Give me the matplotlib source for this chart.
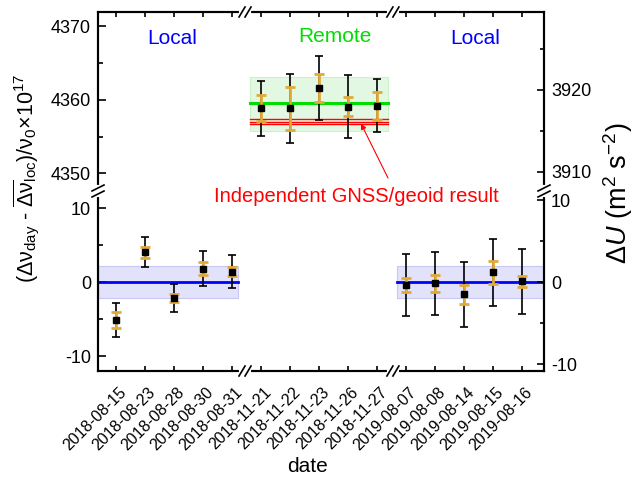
import matplotlib
matplotlib.use('Agg')
import matplotlib.pyplot as plt
import numpy as np
from matplotlib.lines import Line2D
from matplotlib.transforms import IdentityTransform, blended_transform_factory, ScaledTranslation
from matplotlib.ticker import MultipleLocator

plt.rcParams['font.family'] = ['Liberation Sans', 'DejaVu Sans']
plt.rcParams['mathtext.fontset'] = 'custom'
plt.rcParams['mathtext.rm'] = 'Liberation Sans'
plt.rcParams['mathtext.it'] = 'Liberation Sans:italic'
plt.rcParams['mathtext.bf'] = 'Liberation Sans:bold'
plt.rcParams['mathtext.default'] = 'regular'
plt.rcParams['axes.unicode_minus'] = False

# ---------------- data ----------------
dates = ['2018-08-15', '2018-08-23', '2018-08-28', '2018-08-30', '2018-08-31',
         '2018-11-21', '2018-11-22', '2018-11-23', '2018-11-26', '2018-11-27',
         '2019-08-07', '2019-08-08', '2019-08-14', '2019-08-15', '2019-08-16']

local1_y = [-5.15, 4.08, -2.13, 1.85, 1.42]
local1_err_tot = [2.3, 2.07, 1.9, 2.4, 2.25]
local1_err_stat = [1.08, 0.75, 0.56, 0.86, 0.6]

remote_y = [4358.85, 4358.82, 4361.6, 4359.07, 4359.15]
remote_err_tot = [3.74, 4.66, 4.34, 4.24, 3.6]
remote_err_stat = [1.74, 2.93, 1.95, 1.35, 1.9]

local2_y = [-0.42, -0.16, -1.65, 1.33, 0.12]
local2_err_tot = [4.2, 4.33, 4.4, 4.54, 4.4]
local2_err_stat = [0.95, 1.13, 1.35, 1.6, 0.7]

local_mean = 0.0
local_band = 2.17
remote_mean = 4359.5
remote_band_lo, remote_band_hi = 4355.8, 4363.04
gnss_val = 4357.02
gnss_err = 0.32

K = 0.8988  # Delta U (m^2 s^-2) per 1e-17 fractional frequency

# ---------------- style ----------------
ORANGE = '#E0AA38'
BLUE = '#0000FF'
GREEN = '#00DD00'
RED = '#FF0000'

W, H = 641, 479
L, R, T, B, M = 98, 544, 12, 371, 191

fig = plt.figure(figsize=(W / 100, H / 100), dpi=100)
ax_t = fig.add_axes([L / W, (H - M) / H, (R - L) / W, (M - T) / H])
ax_b = fig.add_axes([L / W, (H - B) / H, (R - L) / W, (B - M) / H])

x = np.arange(len(dates))
xl = (-0.62, 14.76)
x1, x2, x3 = x[0:5], x[5:10], x[10:15]

for ax in (ax_t, ax_b):
    ax.set_xlim(*xl)
    ax.set_xticks(x)
    for s in ax.spines.values():
        s.set_linewidth(1.5)

ax_t.set_ylim(4347.61, 4371.90)
ax_b.set_ylim(-12.02, 12.37)

ax_t.spines['bottom'].set_visible(False)
ax_b.spines['top'].set_visible(False)


def draw_group(ax, xs, ys, tot, stat):
    ax.errorbar(xs, ys, yerr=tot, fmt='none', ecolor='black', elinewidth=1.2,
                capsize=3, capthick=1.2, zorder=3)
    ax.errorbar(xs, ys, yerr=stat, fmt='none', ecolor=ORANGE, elinewidth=2.0,
                capsize=3.6, capthick=2.0, zorder=4)
    ax.plot(xs, ys, 's', color='black', ms=4.3, zorder=5)


# bands & mean lines
ax_b.fill_between([xl[0], 4.2], local_mean - local_band, local_mean + local_band,
                  facecolor='#E2E2FA', edgecolor='#C8C8F2', lw=0.8, zorder=1)
ax_b.plot([xl[0], 4.2], [local_mean, local_mean], color=BLUE, lw=2, zorder=2)
ax_b.fill_between([9.7, xl[1]], local_mean - local_band, local_mean + local_band,
                  facecolor='#E2E2FA', edgecolor='#C8C8F2', lw=0.8, zorder=1)
ax_b.plot([9.7, xl[1]], [local_mean, local_mean], color=BLUE, lw=2, zorder=2)

ax_t.fill_between([4.62, 9.39], remote_band_lo, remote_band_hi,
                  facecolor='#E3F8E3', edgecolor='#CBF2CB', lw=0.8, zorder=1)
for v in (gnss_val - gnss_err, gnss_val, gnss_val + gnss_err):
    ax_t.plot([4.62, 9.39], [v, v], color=RED, lw=1.0, zorder=2)
ax_t.plot([4.62, 9.39], [remote_mean, remote_mean], color=GREEN, lw=2.2, zorder=2)

draw_group(ax_b, x1, local1_y, local1_err_tot, local1_err_stat)
draw_group(ax_t, x2, remote_y, remote_err_tot, remote_err_stat)
draw_group(ax_b, x3, local2_y, local2_err_tot, local2_err_stat)

# ticks
for ax in (ax_t, ax_b):
    ax.yaxis.set_major_locator(MultipleLocator(10))
    ax.yaxis.set_minor_locator(MultipleLocator(5))
    ax.tick_params(axis='y', which='major', direction='in', length=6, width=1.2,
                   labelsize=13, pad=5, left=True, right=False)
    ax.tick_params(axis='y', which='minor', direction='in', length=3.5, width=1.2,
                   left=True, right=False)

ax_t.tick_params(axis='x', direction='in', length=3.5, width=1.2, top=True,
                 bottom=False, labelbottom=False, labeltop=False)
ax_b.tick_params(axis='x', direction='in', length=3.5, width=1.2, top=False,
                 bottom=True, labelsize=11.5, pad=13.5)
ax_b.set_xticklabels(dates, rotation=45, ha='right', va='center', rotation_mode='anchor')
for lab in ax_b.get_xticklabels():
    lab.set_transform(lab.get_transform() + ScaledTranslation(5.5 / 72, 0, fig.dpi_scale_trans))

# right twin axes
for ax, up in ((ax_t, True), (ax_b, False)):
    tw = ax.twinx()
    lo, hi = ax.get_ylim()
    tw.set_ylim(lo * K, hi * K)
    tw.yaxis.set_major_locator(MultipleLocator(10))
    tw.yaxis.set_minor_locator(MultipleLocator(5))
    tw.tick_params(axis='y', which='major', direction='in', length=5, width=1.2,
                   labelsize=13, pad=5, left=False, right=True)
    tw.tick_params(axis='y', which='minor', direction='in', length=3, width=1.2,
                   left=False, right=True)
    tw.tick_params(axis='x', top=False, bottom=False, labelbottom=False)
    for s in tw.spines.values():
        s.set_linewidth(1.5)
    tw.spines['bottom' if up else 'top'].set_visible(False)

# break marks
def mark(px, py, horizontal):
    kw = dict(transform=IdentityTransform(), clip_on=False, zorder=20)
    if horizontal:
        fig.add_artist(Line2D([px - 4, px + 4], [py, py], color='white', lw=3, **kw))
        for cx in (px - 3, px + 3):
            fig.add_artist(Line2D([cx - 3, cx + 3], [py - 5, py + 5], color='black', lw=1.2, **kw))
    else:
        fig.add_artist(Line2D([px, px], [py - 4, py + 4], color='white', lw=3, **kw))
        for cy in (py - 3, py + 3):
            fig.add_artist(Line2D([px - 6, px + 6], [cy - 3, cy + 3], color='black', lw=1.2, **kw))

for xb in (4.45, 9.55):
    px, py = blended_transform_factory(ax_t.transData, ax_t.transAxes).transform((xb, 1))
    mark(px, py, True)
    px, py = blended_transform_factory(ax_b.transData, ax_b.transAxes).transform((xb, 0))
    mark(px, py, True)
for xa in (0, 1):
    px, py = ax_b.transAxes.transform((xa, 1))
    mark(px, py, False)

# texts
def ftext(px, py, s, **kw):
    fig.text(px / W, 1 - py / H, s, ha='center', va='center', **kw)

ftext(172, 38, 'Local', color=BLUE, fontsize=15)
ftext(335, 37, 'Remote', color=GREEN, fontsize=15)
ftext(475, 38, 'Local', color=BLUE, fontsize=15)
ftext(356, 196, 'Independent GNSS/geoid result', color=RED, fontsize=14.5)
ftext(307, 466, 'date', fontsize=15)
ftext(27, 178, r'($\Delta\nu_{day}$ - $\overline{\Delta\nu}_{loc}$)/$\nu_0$×10$^{17}$',
      fontsize=15.5, rotation=90)
ftext(618, 193, r'$\Delta$$\it{U}$ (m$^2$ s$^{-2}$)', fontsize=19.5, rotation=90)

ax_t.annotate('', xy=(8.45, 4356.75), xycoords='data',
              xytext=(388 / W, 1 - 178 / H), textcoords='figure fraction',
              arrowprops=dict(arrowstyle='-|>', color=RED, lw=0.8, mutation_scale=8,
                              shrinkA=0, shrinkB=0),
              annotation_clip=False)

fig.savefig('out.png', dpi=100)
